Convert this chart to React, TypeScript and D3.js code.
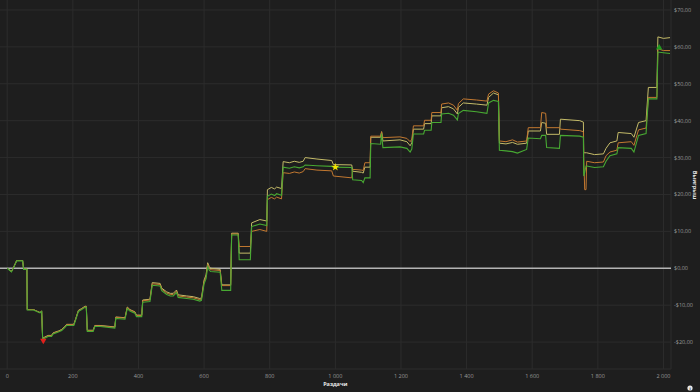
import React from "react";
import * as d3 from "d3";

const hands = [0,13,18,29,47,50,60,61,80,90,100,105,108,115,125,135,140,156,166,176,181,203,209,217,227,237,241,244,262,267,283,328,331,359,366,374,389,394,410,413,435,442,466,471,486,497,506,516,521,547,567,587,592,600,606,611,616,620,649,654,681,684,704,707,741,745,770,791,793,805,815,821,836,841,860,875,890,902,908,944,989,994,1050,1053,1080,1085,1090,1106,1108,1138,1141,1145,1197,1218,1228,1233,1238,1269,1272,1292,1294,1322,1324,1345,1360,1372,1375,1390,1430,1462,1467,1482,1497,1500,1520,1540,1555,1583,1588,1625,1629,1641,1644,1683,1686,1745,1756,1757,1760,1764,1766,1790,1817,1825,1837,1858,1862,1902,1910,1924,1947,1954,1980,1983,2000,2020];

const khaki = [0,-0.9,0,2.1,2.1,-0.2,-0.2,-11.2,-11.2,-11.6,-12.0,-11.6,-19.0,-18.6,-18.2,-18.2,-17.5,-17.0,-16.6,-15.7,-15.2,-15.2,-13.6,-11.4,-10.9,-10.3,-10.3,-16.8,-16.8,-15.5,-15.5,-15.9,-13.2,-13.4,-10.5,-11.2,-11.8,-12.7,-12.7,-8.6,-8.4,-3.9,-4.1,-5.4,-6.4,-6.8,-6.8,-5.9,-7.2,-7.5,-7.7,-8.2,-8.0,-3.2,-1.8,1.5,0.4,0.0,-0.3,-4.5,-4.5,9.5,9.5,4.1,4.1,12.3,13.2,12.8,21.3,21.9,21.5,22.0,21.6,28.9,28.6,29.0,28.7,29.0,30.0,29.6,29.2,28.1,28.0,26.3,26.0,25.8,27.4,27.4,35.5,35.5,37.0,34.5,34.8,34.3,33.2,34.0,37.7,37.7,39.2,39.2,41.3,41.3,43.5,43.8,43.2,41.8,43.6,44.8,44.5,44.2,46.3,47.5,47.0,33.9,33.7,34.1,33.6,33.9,37.2,37.2,39.5,39.3,36.3,36.3,40.4,40.0,39.6,31.3,31.3,31.3,31.3,30.8,31.0,32.5,34.0,34.5,36.8,36.5,35.5,39.5,40.0,49.0,49.0,62.7,62.3,62.5];

const orange = [0,-0.9,0,2.1,2.1,-0.2,-0.2,-11.2,-11.2,-11.6,-12.0,-11.6,-19.2,-18.7,-18.3,-18.3,-17.6,-17.1,-16.7,-15.8,-15.3,-15.3,-13.7,-11.5,-11.0,-10.4,-10.4,-16.9,-16.9,-15.6,-15.6,-16.0,-13.3,-13.5,-10.6,-11.3,-11.9,-12.8,-12.8,-8.8,-8.6,-4.2,-4.4,-5.7,-6.7,-7.1,-7.1,-6.2,-7.5,-7.8,-8.0,-8.5,-8.3,-3.6,-2.2,1.1,0.0,-0.4,-0.6,-4.7,-4.7,9.3,9.3,5.9,5.9,10.0,10.5,10.0,18.6,19.2,18.8,19.3,18.8,25.9,25.7,26.1,25.8,26.2,27.0,26.6,26.4,25.0,24.5,26.8,26.6,26.5,28.6,28.6,35.8,35.8,37.0,35.4,35.6,35.2,34.3,35.0,38.6,38.6,40.1,40.1,42.2,42.2,44.5,44.8,44.2,42.8,44.6,45.9,45.6,45.3,47.2,48.1,47.5,34.5,34.3,34.8,34.2,34.5,38.1,38.1,42.2,42.0,38.1,38.1,37.7,37.3,37.0,30.0,21.3,21.3,29.0,28.6,28.8,30.5,31.5,32.0,34.0,34.3,33.3,37.5,38.0,46.3,46.3,59.5,59.0,59.0];

const green = [0,-1.0,-0.1,2.0,2.0,-0.3,-0.3,-11.3,-11.3,-11.7,-12.1,-11.7,-19.4,-18.9,-18.5,-18.5,-17.8,-17.3,-16.9,-16.0,-15.5,-15.5,-13.9,-11.7,-11.2,-10.6,-10.6,-17.1,-17.1,-15.8,-15.8,-16.2,-13.6,-13.8,-10.9,-11.6,-12.2,-13.1,-13.1,-9.2,-9.0,-4.6,-4.8,-6.1,-7.1,-7.5,-7.5,-6.6,-7.9,-8.2,-8.4,-8.9,-8.7,-4.2,-2.8,0.5,-0.5,-0.9,-1.1,-6.0,-6.0,9.0,9.0,2.3,2.3,11.3,12.0,11.6,19.5,20.1,19.7,20.2,19.8,27.4,27.1,27.5,27.2,27.5,28.0,27.8,27.6,27.4,27.3,24.0,23.8,23.2,24.5,24.5,33.8,33.6,36.5,32.7,32.9,32.5,31.5,32.3,36.4,36.4,37.4,37.4,39.5,39.5,41.8,42.0,41.5,40.2,41.9,42.8,42.4,42.0,44.8,45.5,45.2,32.0,31.8,31.6,31.2,32.2,35.3,35.1,36.0,36.0,32.7,32.5,36.0,35.8,35.5,25.0,26.0,27.7,27.7,27.3,27.5,29.0,30.5,31.0,32.7,32.5,31.5,36.0,36.5,45.9,45.9,58.6,58.4,58.2];

const xTicks = [0,200,400,600,800,1000,1200,1400,1600,1800,2000];
const yTicks = [-20,-10,0,10,20,30,40,50,60,70];
const minPoint = { x: 110, y: -19.6 };
const starPoint = { x: 1000, y: 27.4 };
const maxPoint = { x: 1987, y: 59.8 };

const W = 700, H = 392;
const PL = 0, PR = 671, PT = 0, PB = 369;

const fmtX = (v: number) => (v >= 1000 ? `${Math.floor(v / 1000)} ${String(v % 1000).padStart(3, "0")}` : `${v}`);
const fmtY = (v: number) => `${v < 0 ? "-" : ""}$${Math.abs(v)},00`;

export default function App() {
  const x = d3.scaleLinear().domain([-22, 2023]).range([PL, PR]);
  const y = d3.scaleLinear().domain([-27.3, 72.7]).range([PB, PT]);
  const mk = (vals: number[]) =>
    d3.line<number>().x((_, i) => x(hands[i])).y((v) => y(v))(vals) || "";
  const tri = d3.symbol().type(d3.symbolTriangle).size(18)() || "";
  const star = d3.symbol().type(d3.symbolStar).size(20)() || "";
  const font = "'Open Sans', 'DejaVu Sans', sans-serif";
  return (
    <svg width={W} height={H} style={{ position: "absolute", left: 0, top: 0, background: "#1e1e1e" }} fontFamily={font}>
      <rect x={0} y={0} width={W} height={H} fill="#1e1e1e" />
      {xTicks.map((t) => (
        <line key={"gx" + t} x1={x(t)} x2={x(t)} y1={PT} y2={PB} stroke="#2c2c2c" strokeWidth={1} />
      ))}
      {yTicks.map((t) => (
        <line key={"gy" + t} x1={PL} x2={PR} y1={y(t)} y2={y(t)} stroke="#2c2c2c" strokeWidth={1} />
      ))}
      <line x1={PR} x2={PR} y1={PT} y2={PB} stroke="#2c2c2c" />
      <line x1={PL} x2={PR} y1={PB} y2={PB} stroke="#2c2c2c" />
      <line x1={PL} x2={PR} y1={y(0)} y2={y(0)} stroke="#b4b4b4" strokeWidth={1.6} />
      <path d={mk(khaki)} fill="none" stroke="#c4bb68" strokeWidth={1} />
      <path d={mk(orange)} fill="none" stroke="#c27830" strokeWidth={1} />
      <path d={mk(green)} fill="none" stroke="#47a832" strokeWidth={1.1} />
      <path d={tri} transform={`translate(${x(minPoint.x)},${y(minPoint.y)}) rotate(180)`} fill="#e0201c" />
      <path d={star} transform={`translate(${x(starPoint.x)},${y(starPoint.y)})`} fill="#f2e600" />
      <path d={tri} transform={`translate(${x(maxPoint.x)},${y(maxPoint.y)})`} fill="#1f9a1f" />
      {xTicks.map((t) => (
        <text key={"tx" + t} x={x(t)} y={378} textAnchor="middle" fontSize={5.5} fill="#9a9a9a">{fmtX(t)}</text>
      ))}
      {yTicks.map((t) => (
        <text key={"ty" + t} x={674} y={y(t) + 2} textAnchor="start" fontSize={5.5} fill="#9a9a9a">{fmtY(t)}</text>
      ))}
      <text x={x(1000)} y={386} textAnchor="middle" fontSize={5.5} fontWeight="bold" fill="#e8e8e8">Раздачи</text>
      <text transform={`translate(693,185) rotate(90)`} textAnchor="middle" fontSize={5.5} fontWeight="bold" fill="#e8e8e8">Выигрыш</text>
      <circle cx={690} cy={388} r={2.6} fill="#e8e8e8" />
      <text x={690} y={389.8} textAnchor="middle" fontSize={4} fontWeight="bold" fill="#1e1e1e">i</text>
    </svg>
  );
}
